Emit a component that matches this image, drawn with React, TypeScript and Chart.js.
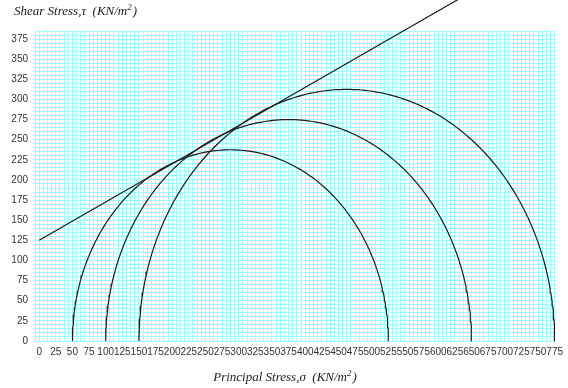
import React, { useEffect, useRef } from "react";
import { Chart, registerables } from "chart.js";

Chart.register(...registerables);

// Mohr circles: minor and major principal stresses (kN/m²) of three tests
const sigma3 = [50, 100, 150];
const sigma1 = [525, 650, 775];

// Failure envelope (σ, τ) end points
const envelopeSigma = [0, 700];
const envelopeTau = [125, 457.5];

// Axis ranges and steps
const xMin = -6.25;
const xMax = 775;
const xMinorStep = 6.25;
const yMin = 0;
const yMax = 385;
const yMinorStep = 5;
const labelStep = 25;

const gridColor = "rgb(155, 255, 255)";
const curveColor = "#1a1a1a";

function semicircle(s3: number, s1: number) {
  const c = (s1 + s3) / 2;
  const r = (s1 - s3) / 2;
  const pts: { x: number; y: number }[] = [];
  for (let a = 0; a <= 180; a += 1) {
    const t = (a * Math.PI) / 180;
    pts.push({ x: c + r * Math.cos(t), y: r * Math.sin(t) });
  }
  return pts;
}

const axisTitles = {
  id: "axisTitles",
  afterDraw(chart: any) {
    const ctx = chart.ctx;
    const drawTitle = (main: string, x: number, y: number, align: "left" | "center") => {
      ctx.save();
      ctx.fillStyle = "#222";
      ctx.textBaseline = "alphabetic";
      ctx.textAlign = "left";
      const mainFont = 'italic 13px "Liberation Serif"';
      const supFont = 'italic 9px "Liberation Serif"';
      ctx.font = mainFont;
      const w1 = ctx.measureText(main).width;
      ctx.font = supFont;
      const w2 = ctx.measureText("2").width;
      ctx.font = mainFont;
      const w3 = ctx.measureText(")").width;
      const total = w1 + w2 + w3 + 1;
      let x0 = align === "center" ? x - total / 2 : x;
      ctx.fillText(main, x0, y);
      x0 += w1;
      ctx.font = supFont;
      ctx.fillText("2", x0, y - 5);
      x0 += w2 + 1;
      ctx.font = mainFont;
      ctx.fillText(")", x0, y);
      ctx.restore();
    };
    drawTitle("Shear Stress,\u03c4  (KN/m", 14, 15, "left");
    drawTitle("Principal Stress,\u03c3  (KN/m", 285, 381, "center");
  },
};

export default function App() {
  const canvasRef = useRef<HTMLCanvasElement | null>(null);

  useEffect(() => {
    if (!canvasRef.current) return;
    const circleSets = sigma3.map((s3, i) => ({
      label: `Test ${i + 1}`,
      data: semicircle(s3, sigma1[i]),
      showLine: true,
      borderColor: curveColor,
      borderWidth: 1.2,
      pointRadius: 0,
      tension: 0,
      clip: false as any,
    }));
    const envelope = {
      label: "Failure envelope",
      data: envelopeSigma.map((s, i) => ({ x: s, y: envelopeTau[i] })),
      showLine: true,
      borderColor: curveColor,
      borderWidth: 1.2,
      pointRadius: 0,
      clip: false as any,
    };

    const chart = new Chart(canvasRef.current, {
      type: "scatter",
      data: { datasets: [...circleSets, envelope] },
      options: {
        animation: false,
        responsive: false,
        devicePixelRatio: 1,
        layout: { padding: { top: 31, right: 13, left: 0, bottom: 0 } },
        plugins: {
          legend: { display: false },
          tooltip: { enabled: false },
        },
        scales: {
          x: {
            type: "linear",
            min: xMin,
            max: xMax,
            grid: { color: gridColor, lineWidth: 1, drawTicks: false },
            border: { display: false },
            ticks: {
              stepSize: xMinorStep,
              autoSkip: false,
              maxRotation: 0,
              minRotation: 0,
              padding: 5,
              color: "#333",
              font: { family: '"Liberation Sans"', size: 10 },
              callback: (v: any) =>
                v >= 0 && v % labelStep === 0 ? String(v) : "",
            },
            afterFit: (s: any) => {
              s.height = 47;
            },
          },
          y: {
            type: "linear",
            min: yMin,
            max: yMax,
            grid: { color: gridColor, lineWidth: 1, drawTicks: false },
            border: { display: false },
            ticks: {
              stepSize: yMinorStep,
              autoSkip: false,
              padding: 7,
              color: "#333",
              font: { family: '"Liberation Sans"', size: 10 },
              callback: (v: any) => (v % labelStep === 0 ? String(v) : ""),
            },
            afterFit: (s: any) => {
              s.width = 35;
            },
          },
        },
      },
      plugins: [axisTitles],
    });
    return () => chart.destroy();
  }, []);

  return (
    <div style={{ position: "fixed", left: 0, top: 0, width: 568, height: 388, background: "#fff" }}>
      <canvas ref={canvasRef} width={568} height={388} style={{ display: "block" }} />
    </div>
  );
}
